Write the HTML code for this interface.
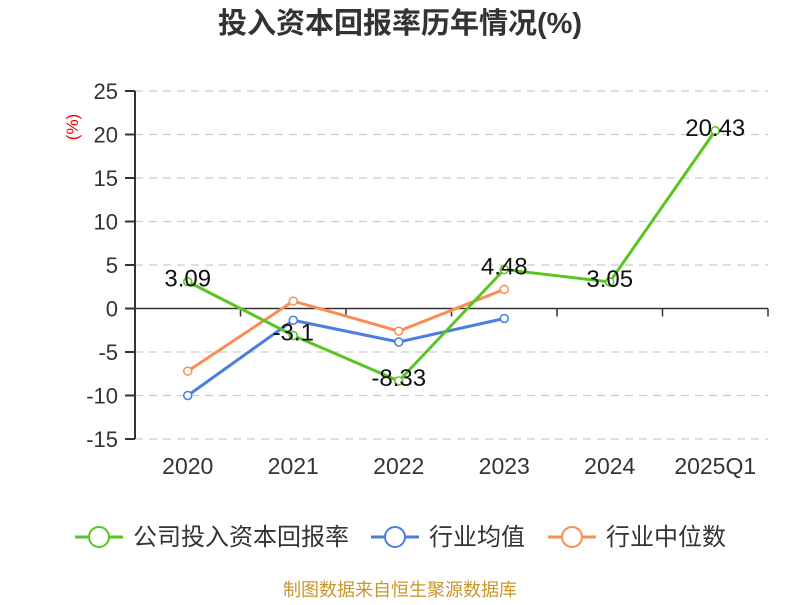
<!DOCTYPE html>
<html><head><meta charset="utf-8">
<style>
body{margin:0;background:#fff;}
svg text{font-family:"Liberation Sans","Noto Sans CJK SC",sans-serif;}
</style></head>
<body>
<svg id="chart" width="800" height="600" xmlns="http://www.w3.org/2000/svg">
<text x="400" y="33" text-anchor="middle" font-size="29" font-weight="bold" fill="#333">投入资本回报率历年情况(%)</text>
<text transform="translate(78,127) rotate(-90)" text-anchor="middle" font-size="17" fill="#e00">(%)</text>
<g id="grid"></g><g id="axes"></g><g id="series"></g><g id="legend"></g>
<text x="400" y="596" text-anchor="middle" font-size="18" fill="#c8962a">制图数据来自恒生聚源数据库</text>
</svg>
<script>
const categories=["2020","2021","2022","2023","2024","2025Q1"];
const companyValues=[3.09,-3.1,-8.33,4.48,3.05,20.43];
const avgValues=[-10.0,-1.35,-3.85,-1.15];
const medianValues=[-7.2,0.85,-2.6,2.2];
const yTicks=[25,20,15,10,5,0,-5,-10,-15];
const seriesNames=["公司投入资本回报率","行业均值","行业中位数"];
const NS="http://www.w3.org/2000/svg";
const L=135,R=768,T=91,B=439,yMax=25,yMin=-15;
const band=(R-L)/categories.length;
const xS=i=>L+band*(i+0.5);
const yS=v=>T+(yMax-v)/(yMax-yMin)*(B-T);
function mk(tag,at,parent){const e=document.createElementNS(NS,tag);for(const k in at)e.setAttribute(k,at[k]);parent.appendChild(e);return e;}
const grid=document.getElementById('grid'),axes=document.getElementById('axes'),ser=document.getElementById('series'),leg=document.getElementById('legend');
yTicks.forEach(t=>{
  const y=yS(t);
  if(t!==0){const g=mk('line',{x1:L,x2:R,y1:y,y2:y,stroke:'#ccc','stroke-dasharray':'8,6','stroke-width':1.3},grid);
  
  }
  const tk=mk('line',{x1:L-10,x2:L,y1:y,y2:y,stroke:'#333','stroke-width':2},axes);
  
  
  const tx=mk('text',{x:118,y:y+8,'text-anchor':'end','font-size':22,fill:'#333'},axes);tx.textContent=t;
  
  
});
const ya=mk('line',{x1:L,x2:L,y1:T,y2:B,stroke:'#333','stroke-width':2},axes);


const xa=mk('line',{x1:L,x2:R,y1:yS(0),y2:yS(0),stroke:'#333','stroke-width':1.5},axes);


for(let i=0;i<=categories.length;i++){const x=L+band*i;const tk=mk('line',{x1:x,x2:x,y1:yS(0),y2:yS(0)+8,stroke:'#333','stroke-width':1.5},axes);

}
categories.forEach((c,i)=>{const t=mk('text',{x:xS(i),y:474,'text-anchor':'middle','font-size':23,fill:'#333'},axes);t.textContent=c;

});
function drawSeries(vals,color,name,labels){
  const pts=vals.map((v,i)=>xS(i)+','+yS(v)).join(' ');
  const pl=mk('polyline',{points:pts,fill:'none',stroke:color,'stroke-width':3},ser);
  
  
  vals.forEach((v,i)=>{
    const c=mk('circle',{cx:xS(i),cy:yS(v),r:4,fill:'#fff',stroke:color,'stroke-width':1.5},ser);
    
    
    if(labels){const t=mk('text',{x:xS(i),y:yS(v)+5,'text-anchor':'middle','font-size':24,fill:'#111'},ser);t.textContent=v;
    
    }
  });
}
drawSeries(avgValues,'#4a7ee0','industry-average',false);
drawSeries(medianValues,'#fb8c55','industry-median',false);
drawSeries(companyValues,'#5ac520','company-roic',true);
const legItems=[[75,'#5ac520',0,'legend-company'],[371,'#4a7ee0',1,'legend-average'],[548,'#fb8c55',2,'legend-median']];
legItems.forEach(([x,col,k,nm])=>{
  const g=mk('g',{},leg);
  
  
  mk('line',{x1:x,x2:x+48,y1:537,y2:537,stroke:col,'stroke-width':3},g);
  mk('circle',{cx:x+24,cy:537,r:10,fill:'#fff',stroke:col,'stroke-width':2},g);
  const t=mk('text',{x:x+58,y:545,'font-size':24,fill:'#333'},g);t.textContent=seriesNames[k];
});
</script>
</body></html>
